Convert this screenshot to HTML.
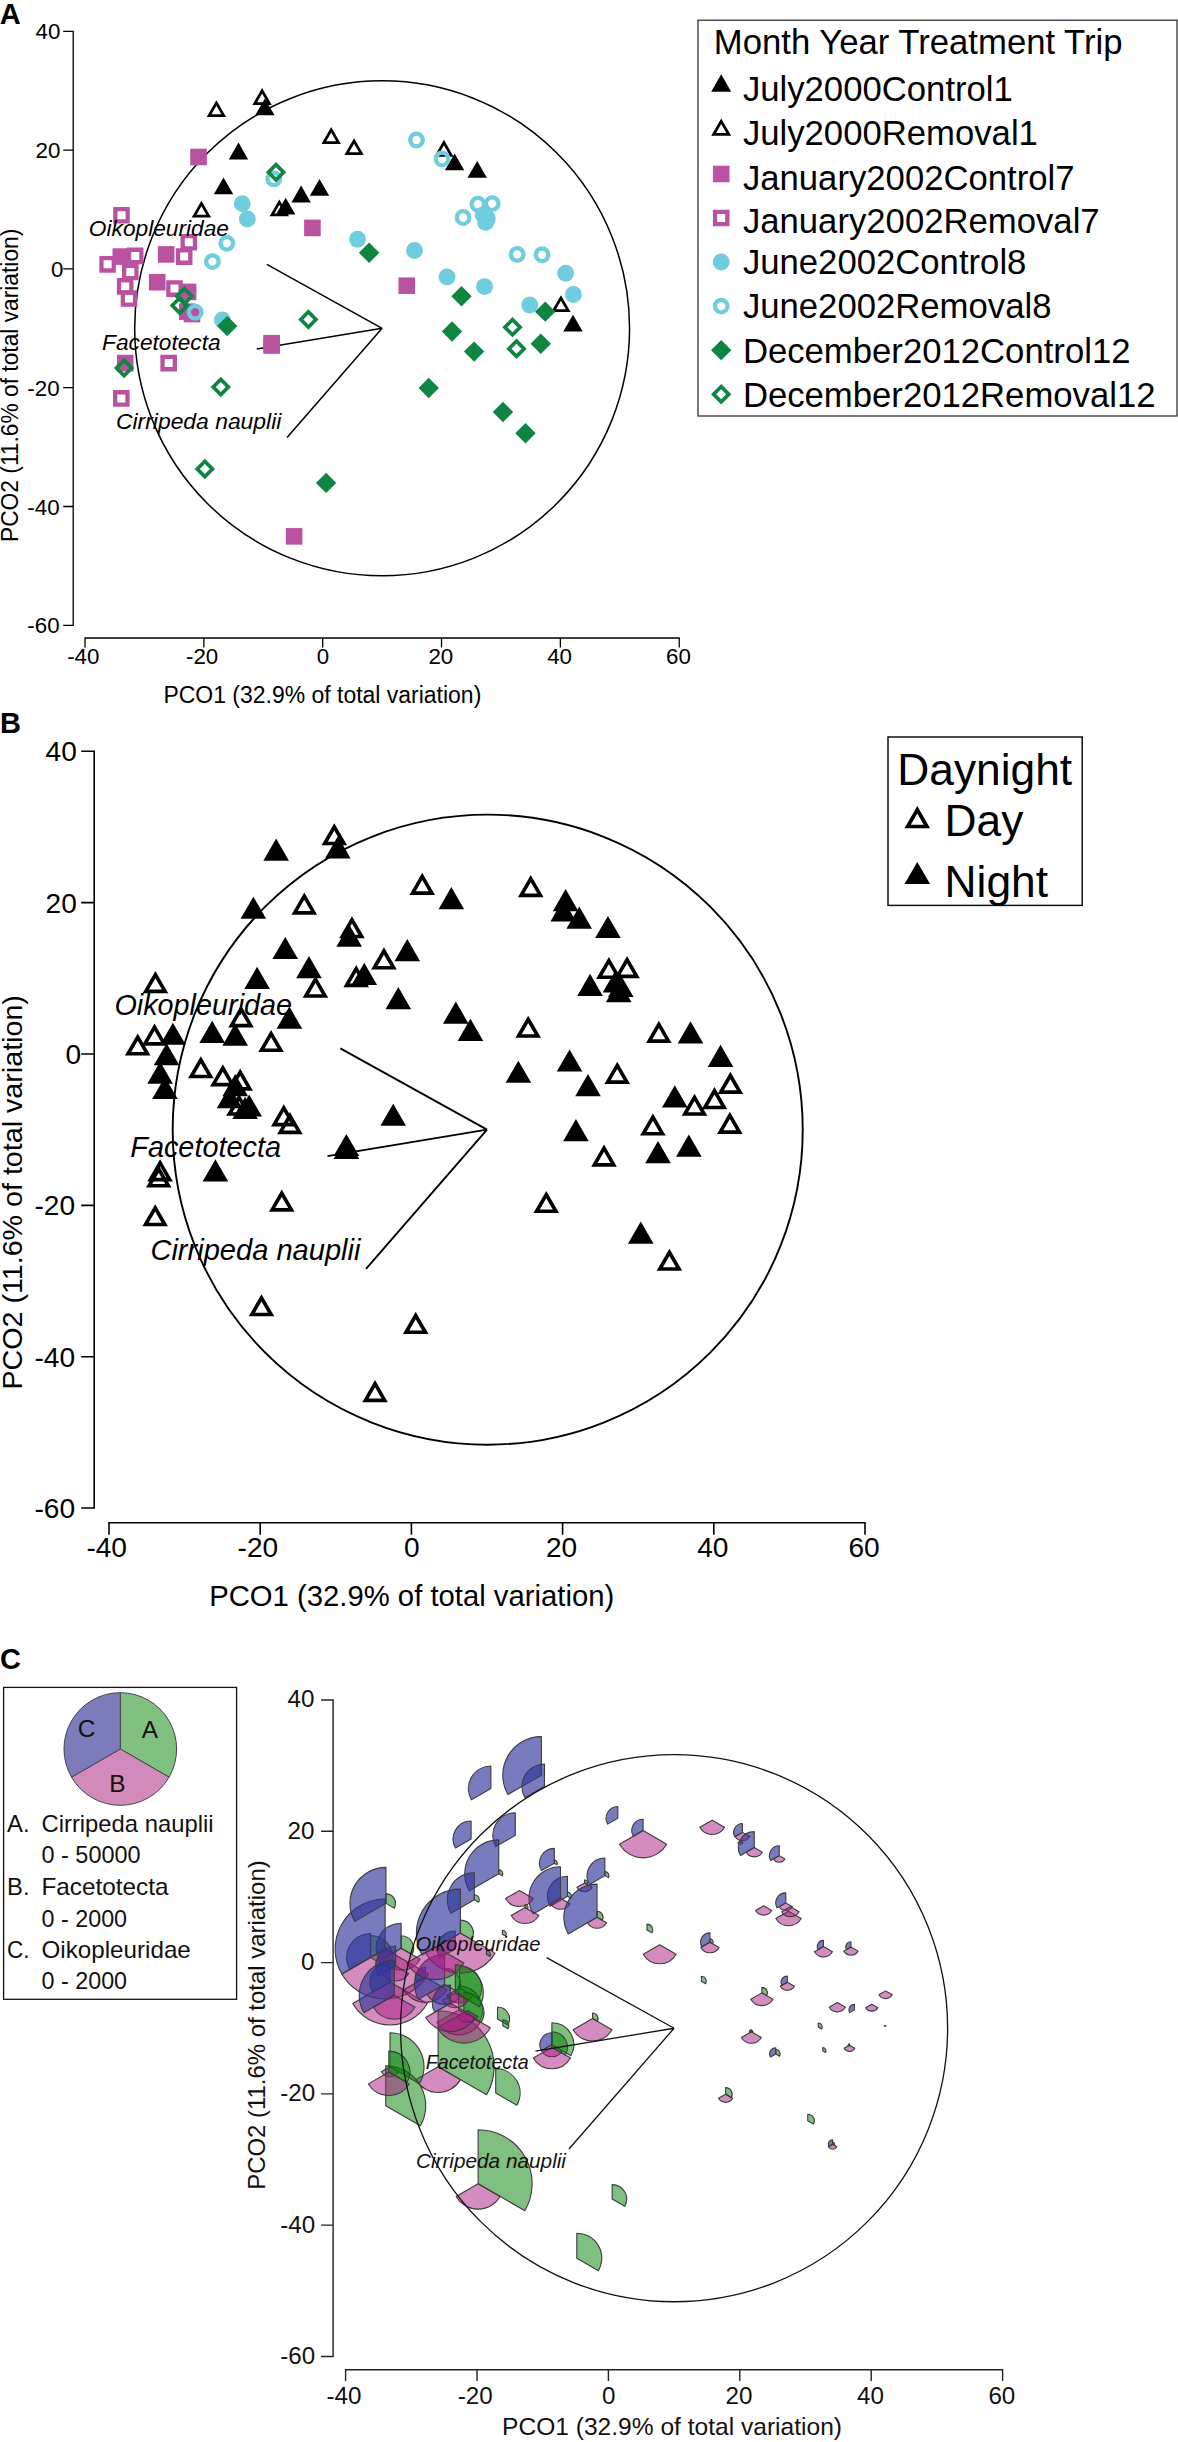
<!DOCTYPE html>
<html><head><meta charset="utf-8"><title>PCO ordination of zooplankton assemblages</title>
<style>html,body{margin:0;padding:0;background:#fff}svg{display:block}text{font-family:"Liberation Sans", Arial, sans-serif}</style>
</head><body>
<svg width="1178" height="2442" viewBox="0 0 1178 2442">
<rect width="1178" height="2442" fill="#fff"/>
<g id="panelA">
<text x="-0.2" y="24.3" font-size="29" font-weight="bold">A</text>
<path d="M63.2 31.3 H73.2 V625.3 H63.2 M63.2 150.1 H73.2 M63.2 268.9 H73.2 M63.2 387.7 H73.2 M63.2 506.5 H73.2 M85.02 647.5 V638 H679.22 V647.5 M203.86 638 V647.5 M322.7 638 V647.5 M441.54 638 V647.5 M560.38 638 V647.5" fill="none" stroke="#000" stroke-width="1.3" stroke-linejoin="miter" stroke-linecap="butt"/>
<text x="60.3" y="39.3" font-size="22.3" text-anchor="end">40</text>
<text x="60.3" y="158.1" font-size="22.3" text-anchor="end">20</text>
<text x="63.4" y="276.9" font-size="22.3" text-anchor="end">0</text>
<text x="59.6" y="395.7" font-size="22.3" text-anchor="end">-20</text>
<text x="59.6" y="514.5" font-size="22.3" text-anchor="end">-40</text>
<text x="59.6" y="633.3" font-size="22.3" text-anchor="end">-60</text>
<text x="83.29" y="664.4" font-size="22.3" text-anchor="middle">-40</text>
<text x="202.13" y="664.4" font-size="22.3" text-anchor="middle">-20</text>
<text x="323" y="664.4" font-size="22.3" text-anchor="middle">0</text>
<text x="440.79" y="664.4" font-size="22.3" text-anchor="middle">20</text>
<text x="559.63" y="664.4" font-size="22.3" text-anchor="middle">40</text>
<text x="678.47" y="664.4" font-size="22.3" text-anchor="middle">60</text>
<text x="163.4" y="702.6" font-size="23" textLength="317.9" lengthAdjust="spacingAndGlyphs">PCO1 (32.9% of total variation)</text>
<text x="17.5" y="542" font-size="23" textLength="313.3" lengthAdjust="spacingAndGlyphs" transform="rotate(-90 17.5 542)">PCO2 (11.6% of total variation)</text>
<circle cx="382.12" cy="328.3" r="247.44" fill="none" stroke="#000" stroke-width="1.5"/>
<path d="M382.12 328.3 L266.85 264.44 M382.12 328.3 L256.74 349.09 M382.12 328.3 L287.05 437.6" fill="none" stroke="#000" stroke-width="1.5"/>
<path d="M216.4 100.17 L226.1 116.97 L206.7 116.97 Z M216.4 105.67 L221.33 114.22 L211.46 114.22 Z" fill="#000" fill-rule="evenodd"/>
<path d="M262.09 88.11 L271.79 104.91 L252.39 104.91 Z M262.09 93.61 L267.03 102.16 L257.15 102.16 Z" fill="#000" fill-rule="evenodd"/>
<path d="M331.2 127.08 L340.9 143.88 L321.5 143.88 Z M331.2 132.58 L336.13 141.13 L326.26 141.13 Z" fill="#000" fill-rule="evenodd"/>
<path d="M279.32 199.49 L289.02 216.29 L269.62 216.29 Z M279.32 204.99 L284.26 213.54 L274.39 213.54 Z" fill="#000" fill-rule="evenodd"/>
<path d="M201.42 200.79 L211.12 217.6 L191.72 217.6 Z M201.42 206.29 L206.36 214.85 L196.49 214.85 Z" fill="#000" fill-rule="evenodd"/>
<path d="M354.07 138.19 L363.77 154.99 L344.37 154.99 Z M354.07 143.69 L359.01 152.24 L349.14 152.24 Z" fill="#000" fill-rule="evenodd"/>
<path d="M443.92 139.85 L453.62 156.65 L434.22 156.65 Z M443.92 145.35 L448.85 153.9 L438.98 153.9 Z" fill="#000" fill-rule="evenodd"/>
<path d="M560.91 295.3 L570.61 312.1 L551.21 312.1 Z M560.91 300.8 L565.85 309.35 L555.98 309.35 Z" fill="#000" fill-rule="evenodd"/>
<path d="M264.88 98.39 L274.58 115.19 L255.18 115.19 Z" fill="#000"/>
<path d="M238.5 142.58 L248.2 159.38 L228.8 159.38 Z" fill="#000"/>
<path d="M223.53 177.39 L233.23 194.19 L213.83 194.19 Z" fill="#000"/>
<path d="M319.49 178.99 L329.19 195.8 L309.79 195.8 Z" fill="#000"/>
<path d="M301.13 185.59 L310.83 202.39 L291.43 202.39 Z" fill="#000"/>
<path d="M285.68 197.71 L295.38 214.51 L275.98 214.51 Z" fill="#000"/>
<path d="M454.61 153.57 L464.31 170.37 L444.91 170.37 Z" fill="#000"/>
<path d="M477.19 160.88 L486.89 177.68 L467.49 177.68 Z" fill="#000"/>
<path d="M572.98 314.66 L582.68 331.46 L563.28 331.46 Z" fill="#000"/>
<path d="M190.21 148.69 h16.6 v16.6 h-16.6 Z" fill="#B9539F"/>
<path d="M304.12 219.61 h16.6 v16.6 h-16.6 Z" fill="#B9539F"/>
<path d="M157.83 246.11 h16.6 v16.6 h-16.6 Z" fill="#B9539F"/>
<path d="M112.49 248.3 h16.6 v16.6 h-16.6 Z" fill="#B9539F"/>
<path d="M148.92 273.91 h16.6 v16.6 h-16.6 Z" fill="#B9539F"/>
<path d="M179.81 283.59 h16.6 v16.6 h-16.6 Z" fill="#B9539F"/>
<path d="M178.92 303.37 h16.6 v16.6 h-16.6 Z" fill="#B9539F"/>
<path d="M183.68 305.74 h16.6 v16.6 h-16.6 Z" fill="#B9539F"/>
<path d="M263.3 334.91 h16.6 v16.6 h-16.6 Z" fill="#B9539F"/>
<path d="M263.3 337.23 h16.6 v16.6 h-16.6 Z" fill="#B9539F"/>
<path d="M398.48 277.41 h16.6 v16.6 h-16.6 Z" fill="#B9539F"/>
<path d="M116.89 354.81 h16.6 v16.6 h-16.6 Z" fill="#B9539F"/>
<path d="M285.82 528.08 h16.6 v16.6 h-16.6 Z" fill="#B9539F"/>
<path d="M113.2 207.02 h16.6 v16.6 h-16.6 Z M117.5 211.32 h8 v8 h-8 Z" fill="#B9539F" fill-rule="evenodd"/>
<path d="M180.53 233.93 h16.6 v16.6 h-16.6 Z M184.83 238.23 h8 v8 h-8 Z" fill="#B9539F" fill-rule="evenodd"/>
<path d="M175.89 248.3 h16.6 v16.6 h-16.6 Z M180.19 252.6 h8 v8 h-8 Z" fill="#B9539F" fill-rule="evenodd"/>
<path d="M126.93 247.59 h16.6 v16.6 h-16.6 Z M131.23 251.89 h8 v8 h-8 Z" fill="#B9539F" fill-rule="evenodd"/>
<path d="M99.3 256.03 h16.6 v16.6 h-16.6 Z M103.6 260.33 h8 v8 h-8 Z" fill="#B9539F" fill-rule="evenodd"/>
<path d="M122 263.69 h16.6 v16.6 h-16.6 Z M126.3 267.99 h8 v8 h-8 Z" fill="#B9539F" fill-rule="evenodd"/>
<path d="M116.89 278.12 h16.6 v16.6 h-16.6 Z M121.19 282.42 h8 v8 h-8 Z" fill="#B9539F" fill-rule="evenodd"/>
<path d="M120.69 290.18 h16.6 v16.6 h-16.6 Z M124.99 294.48 h8 v8 h-8 Z" fill="#B9539F" fill-rule="evenodd"/>
<path d="M166.21 280.32 h16.6 v16.6 h-16.6 Z M170.51 284.62 h8 v8 h-8 Z" fill="#B9539F" fill-rule="evenodd"/>
<path d="M160.38 354.81 h16.6 v16.6 h-16.6 Z M164.68 359.11 h8 v8 h-8 Z" fill="#B9539F" fill-rule="evenodd"/>
<path d="M113.03 390.09 h16.6 v16.6 h-16.6 Z M117.33 394.39 h8 v8 h-8 Z" fill="#B9539F" fill-rule="evenodd"/>
<circle cx="242.19" cy="203.62" r="8.45" fill="#70CDDD"/>
<circle cx="247.3" cy="219" r="8.45" fill="#70CDDD"/>
<circle cx="222.4" cy="319.92" r="8.45" fill="#70CDDD"/>
<circle cx="483.13" cy="214.85" r="8.45" fill="#70CDDD"/>
<circle cx="485.63" cy="222.39" r="8.45" fill="#70CDDD"/>
<circle cx="487.29" cy="218.41" r="8.45" fill="#70CDDD"/>
<circle cx="357.58" cy="239.32" r="8.45" fill="#70CDDD"/>
<circle cx="414.5" cy="250.43" r="8.45" fill="#70CDDD"/>
<circle cx="565.67" cy="273.3" r="8.45" fill="#70CDDD"/>
<circle cx="573.39" cy="294.5" r="8.45" fill="#70CDDD"/>
<circle cx="447.01" cy="276.92" r="8.45" fill="#70CDDD"/>
<circle cx="484.5" cy="286.6" r="8.45" fill="#70CDDD"/>
<circle cx="529.72" cy="305.07" r="8.45" fill="#70CDDD"/>
<circle cx="273.8" cy="178.91" r="6.3" fill="none" stroke="#70CDDD" stroke-width="4.3"/>
<circle cx="226.8" cy="243.3" r="6.3" fill="none" stroke="#70CDDD" stroke-width="4.3"/>
<circle cx="212.42" cy="261.59" r="6.3" fill="none" stroke="#70CDDD" stroke-width="4.3"/>
<circle cx="195.18" cy="312.2" r="6.3" fill="none" stroke="#70CDDD" stroke-width="4.3"/>
<circle cx="416.52" cy="140" r="6.3" fill="none" stroke="#70CDDD" stroke-width="4.3"/>
<circle cx="442.07" cy="159.01" r="6.3" fill="none" stroke="#70CDDD" stroke-width="4.3"/>
<circle cx="477.91" cy="204.27" r="6.3" fill="none" stroke="#70CDDD" stroke-width="4.3"/>
<circle cx="492.23" cy="203.62" r="6.3" fill="none" stroke="#70CDDD" stroke-width="4.3"/>
<circle cx="463.11" cy="217.52" r="6.3" fill="none" stroke="#70CDDD" stroke-width="4.3"/>
<circle cx="517.18" cy="254.41" r="6.3" fill="none" stroke="#70CDDD" stroke-width="4.3"/>
<circle cx="542.08" cy="254.82" r="6.3" fill="none" stroke="#70CDDD" stroke-width="4.3"/>
<path d="M227.21 315.9 L237.41 326.1 L227.21 336.3 L217.01 326.1 Z" fill="#0E8541"/>
<path d="M369.11 242.6 L379.31 252.8 L369.11 263 L358.91 252.8 Z" fill="#0E8541"/>
<path d="M461.51 286.08 L471.71 296.28 L461.51 306.48 L451.31 296.28 Z" fill="#0E8541"/>
<path d="M545.23 301.47 L555.43 311.67 L545.23 321.87 L535.03 311.67 Z" fill="#0E8541"/>
<path d="M452 321.31 L462.2 331.51 L452 341.71 L441.8 331.51 Z" fill="#0E8541"/>
<path d="M474.1 341.38 L484.3 351.58 L474.1 361.78 L463.9 351.58 Z" fill="#0E8541"/>
<path d="M540.77 333.48 L550.97 343.68 L540.77 353.88 L530.57 343.68 Z" fill="#0E8541"/>
<path d="M428.71 377.8 L438.91 388 L428.71 398.2 L418.51 388 Z" fill="#0E8541"/>
<path d="M502.98 401.85 L513.18 412.05 L502.98 422.25 L492.78 412.05 Z" fill="#0E8541"/>
<path d="M525.5 423.12 L535.7 433.32 L525.5 443.52 L515.3 433.32 Z" fill="#0E8541"/>
<path d="M326.09 472.72 L336.29 482.92 L326.09 493.12 L315.89 482.92 Z" fill="#0E8541"/>
<path d="M276 162.12 L286.2 172.32 L276 182.52 L265.8 172.32 Z M276 167.32 L281 172.32 L276 177.32 L271 172.32 Z" fill="#0E8541" fill-rule="evenodd"/>
<path d="M184.25 286.02 L194.45 296.22 L184.25 306.42 L174.05 296.22 Z M184.25 291.22 L189.25 296.22 L184.25 301.22 L179.25 296.22 Z" fill="#0E8541" fill-rule="evenodd"/>
<path d="M179.79 295.41 L189.99 305.61 L179.79 315.81 L169.59 305.61 Z M179.79 300.61 L184.79 305.61 L179.79 310.61 L174.79 305.61 Z" fill="#0E8541" fill-rule="evenodd"/>
<path d="M308.38 309.31 L318.58 319.51 L308.38 329.71 L298.18 319.51 Z M308.38 314.51 L313.38 319.51 L308.38 324.51 L303.38 319.51 Z" fill="#0E8541" fill-rule="evenodd"/>
<path d="M512.49 316.97 L522.69 327.17 L512.49 337.37 L502.29 327.17 Z M512.49 322.17 L517.49 327.17 L512.49 332.17 L507.49 327.17 Z" fill="#0E8541" fill-rule="evenodd"/>
<path d="M516.53 338.59 L526.73 348.79 L516.53 358.99 L506.33 348.79 Z M516.53 343.79 L521.53 348.79 L516.53 353.79 L511.53 348.79 Z" fill="#0E8541" fill-rule="evenodd"/>
<path d="M124.12 357.78 L134.32 367.98 L124.12 378.18 L113.92 367.98 Z M124.12 362.98 L129.12 367.98 L124.12 372.98 L119.12 367.98 Z" fill="#0E8541" fill-rule="evenodd"/>
<path d="M220.79 376.73 L230.99 386.93 L220.79 397.13 L210.59 386.93 Z M220.79 381.93 L225.79 386.93 L220.79 391.93 L215.79 386.93 Z" fill="#0E8541" fill-rule="evenodd"/>
<path d="M204.87 458.82 L215.07 469.02 L204.87 479.22 L194.67 469.02 Z M204.87 464.02 L209.87 469.02 L204.87 474.02 L199.87 469.02 Z" fill="#0E8541" fill-rule="evenodd"/>
<text x="88.8" y="236.3" font-size="22.6" font-style="italic" textLength="140.2" lengthAdjust="spacingAndGlyphs">Oikopleuridae</text>
<text x="102.1" y="349.9" font-size="22.6" font-style="italic" textLength="118.5" lengthAdjust="spacingAndGlyphs">Facetotecta</text>
<text x="116" y="428.9" font-size="22.6" font-style="italic" textLength="165.3" lengthAdjust="spacingAndGlyphs">Cirripeda nauplii</text>
<rect x="698" y="20.2" width="479" height="395.8" fill="#fff" stroke="#222" stroke-width="1.2"/>
<text x="713.8" y="54.1" font-size="34.7">Month Year Treatment Trip</text>
<path d="M721.2 74.36 L731.19 91.67 L711.21 91.67 Z" fill="#000"/>
<text x="742.9" y="101.3" font-size="34.7">July2000Control1</text>
<path d="M721.2 118.4 L731.19 135.71 L711.21 135.71 Z M721.2 124.07 L726.28 132.88 L716.12 132.88 Z" fill="#000" fill-rule="evenodd"/>
<text x="742.9" y="145.4" font-size="34.7">July2000Removal1</text>
<path d="M712.9 165.68 h16.6 v16.6 h-16.6 Z" fill="#B9539F"/>
<text x="742.9" y="189.8" font-size="34.7">January2002Control7</text>
<path d="M712.9 209.72 h16.6 v16.6 h-16.6 Z M717.2 214.02 h8 v8 h-8 Z" fill="#B9539F" fill-rule="evenodd"/>
<text x="742.9" y="232.9" font-size="34.7">January2002Removal7</text>
<circle cx="721.2" cy="262.06" r="8.45" fill="#70CDDD"/>
<text x="742.9" y="274.3" font-size="34.7">June2002Control8</text>
<circle cx="721.2" cy="306.1" r="6.3" fill="none" stroke="#70CDDD" stroke-width="4.3"/>
<text x="742.9" y="318.4" font-size="34.7">June2002Removal8</text>
<path d="M721.2 339.94 L731.4 350.14 L721.2 360.34 L711 350.14 Z" fill="#0E8541"/>
<text x="742.9" y="363" font-size="34.7">December2012Control12</text>
<path d="M721.2 383.98 L731.4 394.18 L721.2 404.38 L711 394.18 Z M721.2 389.18 L726.2 394.18 L721.2 399.18 L716.2 394.18 Z" fill="#0E8541" fill-rule="evenodd"/>
<text x="742.9" y="406.9" font-size="34.7">December2012Removal12</text>
</g>
<g id="panelB">
<text x="0" y="732.8" font-size="29" font-weight="bold">B</text>
<path d="M81.2 751.32 H94.2 V1508.02 H81.2 M81.2 902.66 H94.2 M81.2 1054 H94.2 M81.2 1205.34 H94.2 M81.2 1356.68 H94.2 M109 1534.8 V1522.8 H865 V1534.8 M260.2 1522.8 V1534.8 M411.4 1522.8 V1534.8 M562.6 1522.8 V1534.8 M713.8 1522.8 V1534.8" fill="none" stroke="#000" stroke-width="1.6" stroke-linejoin="miter" stroke-linecap="butt"/>
<text x="76.8" y="761.32" font-size="28.1" text-anchor="end">40</text>
<text x="76.8" y="912.66" font-size="28.1" text-anchor="end">20</text>
<text x="81" y="1064" font-size="28.1" text-anchor="end">0</text>
<text x="75.1" y="1215.34" font-size="28.1" text-anchor="end">-20</text>
<text x="75.1" y="1366.68" font-size="28.1" text-anchor="end">-40</text>
<text x="75.1" y="1518.02" font-size="28.1" text-anchor="end">-60</text>
<text x="106.7" y="1557.1" font-size="28.1" text-anchor="middle">-40</text>
<text x="257.9" y="1557.1" font-size="28.1" text-anchor="middle">-20</text>
<text x="411.8" y="1557.1" font-size="28.1" text-anchor="middle">0</text>
<text x="561.6" y="1557.1" font-size="28.1" text-anchor="middle">20</text>
<text x="712.8" y="1557.1" font-size="28.1" text-anchor="middle">40</text>
<text x="864" y="1557.1" font-size="28.1" text-anchor="middle">60</text>
<text x="209.2" y="1605.5" font-size="29.1" textLength="405" lengthAdjust="spacingAndGlyphs">PCO1 (32.9% of total variation)</text>
<text x="21.8" y="1389.6" font-size="28.5" textLength="394.5" lengthAdjust="spacingAndGlyphs" transform="rotate(-90 21.8 1389.6)">PCO2 (11.6% of total variation)</text>
<circle cx="487.7" cy="1129.67" r="315.02" fill="none" stroke="#000" stroke-width="1.9"/>
<path d="M487 1129.67 L340.34 1048.32 M487 1129.67 L327.48 1156.15 M487 1129.67 L366.04 1268.9" fill="none" stroke="#000" stroke-width="1.9"/>
<path d="M276.15 838.54 L288.95 860.71 L263.35 860.71 Z"/>
<path d="M334.29 823.18 L347.09 845.35 L321.49 845.35 Z M334.29 830.48 L340.77 841.7 L327.81 841.7 Z" fill-rule="evenodd"/>
<path d="M337.84 836.27 L350.64 858.44 L325.04 858.44 Z"/>
<path d="M422.21 872.82 L435.01 894.99 L409.41 894.99 Z M422.21 880.12 L428.69 891.34 L415.73 891.34 Z" fill-rule="evenodd"/>
<path d="M253.4 896.66 L266.2 918.83 L240.6 918.83 Z"/>
<path d="M304.27 892.57 L317.07 914.74 L291.47 914.74 Z M304.27 899.87 L310.75 911.09 L297.8 911.09 Z" fill-rule="evenodd"/>
<path d="M351.98 916.18 L364.78 938.35 L339.18 938.35 Z M351.98 923.48 L358.46 934.7 L345.5 934.7 Z" fill-rule="evenodd"/>
<path d="M349.18 924.58 L361.98 946.75 L336.38 946.75 Z"/>
<path d="M285.22 936.91 L298.02 959.08 L272.42 959.08 Z"/>
<path d="M407.32 938.96 L420.12 961.13 L394.52 961.13 Z"/>
<path d="M383.96 947.36 L396.76 969.53 L371.16 969.53 Z M383.96 954.66 L390.44 965.88 L377.48 965.88 Z" fill-rule="evenodd"/>
<path d="M364.3 962.79 L377.1 984.96 L351.5 984.96 Z"/>
<path d="M356.21 965.06 L369.01 987.23 L343.41 987.23 Z M356.21 972.36 L362.69 983.58 L349.73 983.58 Z" fill-rule="evenodd"/>
<path d="M257.1 966.73 L269.9 988.9 L244.3 988.9 Z"/>
<path d="M308.96 956.06 L321.76 978.23 L296.16 978.23 Z"/>
<path d="M315.46 975.66 L328.26 997.83 L302.66 997.83 Z M315.46 982.96 L321.94 994.18 L308.99 994.18 Z" fill-rule="evenodd"/>
<path d="M398.32 987.01 L411.12 1009.18 L385.52 1009.18 Z"/>
<path d="M155.42 970.97 L168.22 993.14 L142.62 993.14 Z M155.42 978.27 L161.9 989.49 L148.94 989.49 Z" fill-rule="evenodd"/>
<path d="M289.38 1006.61 L302.18 1028.78 L276.58 1028.78 Z"/>
<path d="M271.09 1029.91 L283.89 1052.08 L258.29 1052.08 Z M271.09 1037.21 L277.56 1048.43 L264.61 1048.43 Z" fill-rule="evenodd"/>
<path d="M241.07 1005.24 L253.87 1027.41 L228.27 1027.41 Z M241.07 1012.54 L247.55 1023.76 L234.6 1023.76 Z" fill-rule="evenodd"/>
<path d="M235.18 1023.56 L247.98 1045.73 L222.38 1045.73 Z"/>
<path d="M212.19 1020.76 L224.99 1042.93 L199.39 1042.93 Z"/>
<path d="M172.88 1022.65 L185.68 1044.82 L160.08 1044.82 Z"/>
<path d="M154.51 1023.56 L167.31 1045.73 L141.71 1045.73 Z M154.51 1030.86 L160.99 1042.08 L148.03 1042.08 Z" fill-rule="evenodd"/>
<path d="M137.73 1033.39 L150.53 1055.56 L124.93 1055.56 Z M137.73 1040.69 L144.21 1051.91 L131.25 1051.91 Z" fill-rule="evenodd"/>
<path d="M166.61 1043.15 L179.41 1065.32 L153.81 1065.32 Z"/>
<path d="M160.11 1061.54 L172.91 1083.71 L147.31 1083.71 Z"/>
<path d="M164.94 1076.9 L177.74 1099.07 L152.14 1099.07 Z"/>
<path d="M200.85 1056.17 L213.65 1078.34 L188.05 1078.34 Z M200.85 1063.47 L207.33 1074.69 L194.38 1074.69 Z" fill-rule="evenodd"/>
<path d="M222.85 1064.34 L235.65 1086.51 L210.05 1086.51 Z M222.85 1071.64 L229.33 1082.86 L216.38 1082.86 Z" fill-rule="evenodd"/>
<path d="M240.17 1068.5 L252.97 1090.67 L227.37 1090.67 Z M240.17 1075.8 L246.64 1087.02 L233.69 1087.02 Z" fill-rule="evenodd"/>
<path d="M235.25 1074.03 L248.05 1096.2 L222.45 1096.2 Z"/>
<path d="M229.58 1085.98 L242.38 1108.15 L216.78 1108.15 Z"/>
<path d="M239.03 1093.7 L251.83 1115.87 L226.23 1115.87 Z M239.03 1101 L245.51 1112.22 L232.55 1112.22 Z" fill-rule="evenodd"/>
<path d="M245.08 1096.73 L257.88 1118.9 L232.28 1118.9 Z"/>
<path d="M249.16 1094.38 L261.96 1116.55 L236.36 1116.55 Z"/>
<path d="M283.79 1104.22 L296.59 1126.39 L270.99 1126.39 Z M283.79 1111.52 L290.27 1122.74 L277.31 1122.74 Z" fill-rule="evenodd"/>
<path d="M289.91 1112.09 L302.71 1134.26 L277.11 1134.26 Z M289.91 1119.39 L296.39 1130.61 L283.43 1130.61 Z" fill-rule="evenodd"/>
<path d="M393.18 1103.69 L405.98 1125.86 L380.38 1125.86 Z"/>
<path d="M346.38 1133.88 L359.18 1156.05 L333.58 1156.05 Z"/>
<path d="M346.38 1136.83 L359.18 1159 L333.58 1159 Z"/>
<path d="M451.32 886.97 L464.12 909.14 L438.52 909.14 Z"/>
<path d="M530.77 875.02 L543.57 897.19 L517.97 897.19 Z M530.77 882.32 L537.25 893.54 L524.29 893.54 Z" fill-rule="evenodd"/>
<path d="M565.62 889.09 L578.42 911.26 L552.82 911.26 Z"/>
<path d="M563.28 899.23 L576.08 921.4 L550.48 921.4 Z"/>
<path d="M579.23 906.57 L592.03 928.74 L566.43 928.74 Z"/>
<path d="M607.96 915.88 L620.76 938.05 L595.16 938.05 Z"/>
<path d="M608.87 956.89 L621.67 979.06 L596.07 979.06 Z M608.87 964.19 L615.35 975.41 L602.39 975.41 Z" fill-rule="evenodd"/>
<path d="M627.09 956.06 L639.89 978.23 L614.29 978.23 Z M627.09 963.36 L633.56 974.58 L620.61 974.58 Z" fill-rule="evenodd"/>
<path d="M590.04 973.77 L602.84 995.94 L577.24 995.94 Z"/>
<path d="M615.52 970.36 L628.32 992.53 L602.72 992.53 Z"/>
<path d="M618.7 979.97 L631.5 1002.14 L605.9 1002.14 Z"/>
<path d="M620.81 974.9 L633.61 997.07 L608.01 997.07 Z"/>
<path d="M455.78 1001.54 L468.58 1023.71 L442.98 1023.71 Z"/>
<path d="M470.44 1018.71 L483.24 1040.88 L457.64 1040.88 Z"/>
<path d="M528.2 1015.69 L541 1037.86 L515.4 1037.86 Z M528.2 1022.99 L534.68 1034.21 L521.72 1034.21 Z" fill-rule="evenodd"/>
<path d="M658.84 1020.76 L671.64 1042.93 L646.04 1042.93 Z M658.84 1028.06 L665.32 1039.28 L652.36 1039.28 Z" fill-rule="evenodd"/>
<path d="M690.52 1021.29 L703.32 1043.46 L677.72 1043.46 Z"/>
<path d="M720.53 1044.82 L733.33 1066.99 L707.73 1066.99 Z"/>
<path d="M730.36 1071.83 L743.16 1094 L717.56 1094 Z M730.36 1079.13 L736.83 1090.35 L723.88 1090.35 Z" fill-rule="evenodd"/>
<path d="M569.56 1049.44 L582.36 1071.61 L556.76 1071.61 Z"/>
<path d="M617.26 1061.77 L630.06 1083.94 L604.46 1083.94 Z M617.26 1069.07 L623.74 1080.29 L610.78 1080.29 Z" fill-rule="evenodd"/>
<path d="M518.37 1060.63 L531.17 1082.8 L505.57 1082.8 Z"/>
<path d="M588 1074.1 L600.8 1096.27 L575.2 1096.27 Z"/>
<path d="M674.79 1085.3 L687.59 1107.47 L661.99 1107.47 Z"/>
<path d="M694.52 1093.7 L707.32 1115.87 L681.72 1115.87 Z M694.52 1101 L701 1112.22 L688.04 1112.22 Z" fill-rule="evenodd"/>
<path d="M714.48 1087.12 L727.28 1109.29 L701.68 1109.29 Z M714.48 1094.42 L720.96 1105.64 L708 1105.64 Z" fill-rule="evenodd"/>
<path d="M729.83 1111.79 L742.63 1133.96 L717.03 1133.96 Z M729.83 1119.09 L736.31 1130.31 L723.35 1130.31 Z" fill-rule="evenodd"/>
<path d="M652.87 1113.45 L665.67 1135.62 L640.07 1135.62 Z M652.87 1120.75 L659.34 1131.97 L646.39 1131.97 Z" fill-rule="evenodd"/>
<path d="M575.91 1118.98 L588.71 1141.15 L563.11 1141.15 Z"/>
<path d="M604.03 1144.55 L616.83 1166.72 L591.23 1166.72 Z M604.03 1151.85 L610.51 1163.07 L597.55 1163.07 Z" fill-rule="evenodd"/>
<path d="M658.01 1141 L670.81 1163.17 L645.21 1163.17 Z"/>
<path d="M688.85 1134.49 L701.65 1156.66 L676.05 1156.66 Z"/>
<path d="M546.27 1190.94 L559.07 1213.11 L533.47 1213.11 Z M546.27 1198.24 L552.75 1209.46 L539.79 1209.46 Z" fill-rule="evenodd"/>
<path d="M640.77 1221.58 L653.57 1243.75 L627.97 1243.75 Z"/>
<path d="M669.42 1248.67 L682.22 1270.84 L656.62 1270.84 Z M669.42 1255.97 L675.9 1267.19 L662.94 1267.19 Z" fill-rule="evenodd"/>
<path d="M160.11 1159.23 L172.91 1181.4 L147.31 1181.4 Z M160.11 1166.53 L166.58 1177.75 L153.63 1177.75 Z" fill-rule="evenodd"/>
<path d="M158.74 1165.44 L171.54 1187.61 L145.94 1187.61 Z M158.74 1172.74 L165.22 1183.96 L152.27 1183.96 Z" fill-rule="evenodd"/>
<path d="M215.44 1159.23 L228.24 1181.4 L202.64 1181.4 Z"/>
<path d="M281.75 1189.58 L294.55 1211.75 L268.95 1211.75 Z M281.75 1196.88 L288.22 1208.1 L275.27 1208.1 Z" fill-rule="evenodd"/>
<path d="M155.19 1204.18 L167.99 1226.35 L142.39 1226.35 Z M155.19 1211.48 L161.67 1222.7 L148.71 1222.7 Z" fill-rule="evenodd"/>
<path d="M261.49 1294.15 L274.29 1316.32 L248.69 1316.32 Z M261.49 1301.45 L267.96 1312.67 L255.01 1312.67 Z" fill-rule="evenodd"/>
<path d="M415.71 1311.86 L428.51 1334.03 L402.91 1334.03 Z M415.71 1319.16 L422.19 1330.38 L409.23 1330.38 Z" fill-rule="evenodd"/>
<path d="M375.04 1379.96 L387.84 1402.13 L362.24 1402.13 Z M375.04 1387.26 L381.51 1398.48 L368.56 1398.48 Z" fill-rule="evenodd"/>
<text x="114.4" y="1015.3" font-size="28.8" font-style="italic" textLength="177.7" lengthAdjust="spacingAndGlyphs">Oikopleuridae</text>
<text x="130.3" y="1156.8" font-size="28.8" font-style="italic" textLength="150.7" lengthAdjust="spacingAndGlyphs">Facetotecta</text>
<text x="150.4" y="1260.2" font-size="28.8" font-style="italic" textLength="210.1" lengthAdjust="spacingAndGlyphs">Cirripeda nauplii</text>
<rect x="888" y="737" width="194.2" height="168.4" fill="#fff" stroke="#111" stroke-width="1.5"/>
<text x="897.3" y="784.7" font-size="44.3">Daynight</text>
<path d="M917.3 806.12 L930.1 828.29 L904.5 828.29 Z M917.3 813.42 L923.78 824.64 L910.82 824.64 Z" fill-rule="evenodd"/>
<text x="944.6" y="835.9" font-size="44.3">Day</text>
<path d="M917.3 861.92 L930.1 884.09 L904.5 884.09 Z"/>
<text x="944.6" y="897.2" font-size="44.3">Night</text>
</g>
<g id="panelC">
<text x="0" y="1669.4" font-size="29" font-weight="bold">C</text>
<path d="M321.1 1700.04 H333.1 V2356.44 H321.1 M321.1 1831.32 H333.1 M321.1 1962.6 H333.1 M321.1 2093.88 H333.1 M321.1 2225.16 H333.1 M345.6 2381.1 V2369.7 H1002.6 V2381.1 M477 2369.7 V2381.1 M608.4 2369.7 V2381.1 M739.8 2369.7 V2381.1 M871.2 2369.7 V2381.1" fill="none" stroke="#222" stroke-width="1.4" stroke-linejoin="miter" stroke-linecap="butt"/>
<text x="314.4" y="1707.44" font-size="24.2" text-anchor="end" fill="#151010">40</text>
<text x="314.4" y="1838.72" font-size="24.2" text-anchor="end" fill="#151010">20</text>
<text x="314.4" y="1970" font-size="24.2" text-anchor="end" fill="#151010">0</text>
<text x="315.2" y="2101.28" font-size="24.2" text-anchor="end" fill="#151010">-20</text>
<text x="315.2" y="2232.56" font-size="24.2" text-anchor="end" fill="#151010">-40</text>
<text x="315.2" y="2363.84" font-size="24.2" text-anchor="end" fill="#151010">-60</text>
<text x="343.87" y="2404" font-size="24.2" text-anchor="middle" fill="#151010">-40</text>
<text x="475.27" y="2404" font-size="24.2" text-anchor="middle" fill="#151010">-20</text>
<text x="608.7" y="2404" font-size="24.2" text-anchor="middle" fill="#151010">0</text>
<text x="739.05" y="2404" font-size="24.2" text-anchor="middle" fill="#151010">20</text>
<text x="870.45" y="2404" font-size="24.2" text-anchor="middle" fill="#151010">40</text>
<text x="1001.85" y="2404" font-size="24.2" text-anchor="middle" fill="#151010">60</text>
<text x="502" y="2434.6" font-size="24.4" textLength="340" lengthAdjust="spacingAndGlyphs" fill="#151010">PCO1 (32.9% of total variation)</text>
<text x="265.5" y="2189.8" font-size="23.8" textLength="329.5" lengthAdjust="spacingAndGlyphs" transform="rotate(-90 265.5 2189.8)" fill="#151010">PCO2 (11.6% of total variation)</text>
<g stroke="#3c3c3c" stroke-width="1.1" stroke-linejoin="round">
<path d="M490.86 1788.52 L471.38 1799.77 A22.5 22.5 0 0 1 490.86 1766.02 Z" fill="rgba(47,53,155,0.65)"/>
<path d="M541.39 1775.2 L507.96 1794.5 A38.6 38.6 0 0 1 541.39 1736.6 Z" fill="rgba(47,53,155,0.65)"/>
<path d="M544.47 1786.55 L524.99 1797.8 A22.5 22.5 0 0 1 544.47 1764.05 Z" fill="rgba(47,53,155,0.65)"/>
<path d="M617.8 1818.26 L607.66 1824.11 A11.7 11.7 0 0 1 617.8 1806.56 Z" fill="rgba(47,53,155,0.65)"/>
<path d="M515.3 1835.39 L495.82 1846.64 A22.5 22.5 0 0 1 515.3 1812.89 Z" fill="rgba(47,53,155,0.65)"/>
<path d="M498.75 1873.85 L498.75 1869.85 A4 4 0 0 1 502.21 1875.85 Z" fill="rgba(0,128,0,0.5)"/>
<path d="M498.75 1873.85 L469.3 1890.85 A34 34 0 0 1 498.75 1839.85 Z" fill="rgba(47,53,155,0.65)"/>
<path d="M604.85 1875.63 L604.85 1871.63 A4 4 0 0 1 608.32 1877.63 Z" fill="rgba(0,128,0,0.5)"/>
<path d="M604.85 1875.63 L589.52 1884.48 A17.7 17.7 0 0 1 604.85 1857.93 Z" fill="rgba(47,53,155,0.65)"/>
<path d="M584.55 1882.91 L584.55 1879.91 A3 3 0 0 1 587.15 1884.41 Z" fill="rgba(0,128,0,0.5)"/>
<path d="M584.55 1882.91 L592.17 1887.31 A8.8 8.8 0 0 1 576.93 1887.31 Z" fill="rgba(169,25,129,0.5)"/>
<path d="M567.47 1896.3 L567.47 1892.3 A4 4 0 0 1 570.93 1898.3 Z" fill="rgba(0,128,0,0.5)"/>
<path d="M567.47 1896.3 L550.15 1906.3 A20 20 0 0 1 567.47 1876.3 Z" fill="rgba(47,53,155,0.65)"/>
<path d="M560.44 1898.27 L569.97 1903.77 A11 11 0 0 1 550.91 1903.77 Z" fill="rgba(169,25,129,0.5)"/>
<path d="M560.44 1898.27 L533.16 1914.02 A31.5 31.5 0 0 1 560.44 1866.77 Z" fill="rgba(47,53,155,0.65)"/>
<path d="M474.31 1899.72 L474.31 1894.72 A5 5 0 0 1 478.64 1902.22 Z" fill="rgba(0,128,0,0.5)"/>
<path d="M474.31 1899.72 L450.92 1913.22 A27 27 0 0 1 474.31 1872.72 Z" fill="rgba(47,53,155,0.65)"/>
<path d="M643.09 1830.53 L666.73 1844.18 A27.3 27.3 0 0 1 619.45 1844.18 Z" fill="rgba(169,25,129,0.5)"/>
<path d="M643.09 1830.53 L633.3 1836.18 A11.3 11.3 0 0 1 643.09 1819.23 Z" fill="rgba(47,53,155,0.65)"/>
<path d="M742.43 1832.37 L749.7 1836.57 A8.4 8.4 0 0 1 735.15 1836.57 Z" fill="rgba(169,25,129,0.5)"/>
<path d="M742.43 1832.37 L734.81 1836.77 A8.8 8.8 0 0 1 742.43 1823.57 Z" fill="rgba(47,53,155,0.65)"/>
<path d="M754.25 1847.53 L762.31 1852.18 A9.3 9.3 0 0 1 746.2 1852.18 Z" fill="rgba(169,25,129,0.5)"/>
<path d="M754.25 1847.53 L740.48 1855.48 A15.9 15.9 0 0 1 754.25 1831.63 Z" fill="rgba(47,53,155,0.65)"/>
<path d="M779.22 1855.61 L784.94 1858.91 A6.6 6.6 0 0 1 773.5 1858.91 Z" fill="rgba(169,25,129,0.5)"/>
<path d="M779.22 1855.61 L770.73 1860.51 A9.8 9.8 0 0 1 779.22 1845.81 Z" fill="rgba(47,53,155,0.65)"/>
<path d="M871.79 2004.15 L877.85 2007.65 A7 7 0 0 1 865.73 2007.65 Z" fill="rgba(169,25,129,0.5)"/>
<path d="M885.13 2025.55 L885.99 2026.05 A1 1 0 0 1 884.26 2026.05 Z" fill="rgba(169,25,129,0.5)"/>
<path d="M438.11 2066.71 L438.11 2010.71 A56 56 0 0 1 486.6 2094.71 Z" fill="rgba(0,128,0,0.5)"/>
<path d="M438.11 2066.71 L460.45 2079.61 A25.8 25.8 0 0 1 415.76 2079.61 Z" fill="rgba(169,25,129,0.5)"/>
<path d="M390.01 2066.71 L390.01 2032.71 A34 34 0 0 1 419.46 2083.71 Z" fill="rgba(0,128,0,0.5)"/>
<path d="M390.01 2066.71 L398.67 2071.71 A10 10 0 0 1 381.35 2071.71 Z" fill="rgba(169,25,129,0.5)"/>
<path d="M385.74 2105.7 L385.74 2065.7 A40 40 0 0 1 420.38 2125.7 Z" fill="rgba(0,128,0,0.5)"/>
<path d="M370.57 1957.55 L370.57 1935.55 A22 22 0 0 1 389.62 1968.55 Z" fill="rgba(0,128,0,0.5)"/>
<path d="M370.57 1957.55 L349.78 1969.55 A24 24 0 0 1 370.57 1933.55 Z" fill="rgba(47,53,155,0.65)"/>
<path d="M455.25 1949.01 L439.66 1958.01 A18 18 0 0 1 455.25 1931.01 Z" fill="rgba(47,53,155,0.65)"/>
<path d="M401.12 1948.22 L401.12 1935.72 A12.5 12.5 0 0 1 411.94 1954.47 Z" fill="rgba(0,128,0,0.5)"/>
<path d="M401.12 1948.22 L420.17 1959.22 A22 22 0 0 1 382.06 1959.22 Z" fill="rgba(169,25,129,0.5)"/>
<path d="M401.12 1948.22 L379.47 1960.72 A25 25 0 0 1 401.12 1923.22 Z" fill="rgba(47,53,155,0.65)"/>
<path d="M385.15 1949.01 L428.45 1974.01 A50 50 0 0 1 341.85 1974.01 Z" fill="rgba(169,25,129,0.5)"/>
<path d="M385.15 1949.01 L341.85 1974.01 A50 50 0 0 1 385.15 1899.01 Z" fill="rgba(47,53,155,0.65)"/>
<path d="M385.94 1903.39 L385.94 1893.89 A9.5 9.5 0 0 1 394.17 1908.14 Z" fill="rgba(0,128,0,0.5)"/>
<path d="M385.94 1903.39 L354.76 1921.39 A36 36 0 0 1 385.94 1867.39 Z" fill="rgba(47,53,155,0.65)"/>
<path d="M471.09 1838.93 L455.5 1847.93 A18 18 0 0 1 471.09 1820.93 Z" fill="rgba(47,53,155,0.65)"/>
<path d="M597.03 1917.31 L597.03 1911.31 A6 6 0 0 1 602.23 1920.31 Z" fill="rgba(0,128,0,0.5)"/>
<path d="M597.03 1917.31 L606.56 1922.81 A11 11 0 0 1 587.51 1922.81 Z" fill="rgba(169,25,129,0.5)"/>
<path d="M597.03 1917.31 L568.28 1933.91 A33.2 33.2 0 0 1 597.03 1884.11 Z" fill="rgba(47,53,155,0.65)"/>
<path d="M395.66 1966.01 L408.65 1973.51 A15 15 0 0 1 382.67 1973.51 Z" fill="rgba(169,25,129,0.5)"/>
<path d="M395.66 1966.01 L378.34 1976.01 A20 20 0 0 1 395.66 1946.01 Z" fill="rgba(47,53,155,0.65)"/>
<path d="M390.01 1981.96 L427.25 2003.46 A43 43 0 0 1 352.77 2003.46 Z" fill="rgba(169,25,129,0.5)"/>
<path d="M390.01 1981.96 L372.69 1991.96 A20 20 0 0 1 390.01 1961.96 Z" fill="rgba(47,53,155,0.65)"/>
<path d="M394.22 1995.29 L415 2007.29 A24 24 0 0 1 373.43 2007.29 Z" fill="rgba(169,25,129,0.5)"/>
<path d="M394.22 1995.29 L363.91 2012.79 A35 35 0 0 1 394.22 1960.29 Z" fill="rgba(47,53,155,0.65)"/>
<path d="M425.43 1977.3 L447.08 1989.8 A25 25 0 0 1 403.77 1989.8 Z" fill="rgba(169,25,129,0.5)"/>
<path d="M425.43 1977.3 L416.77 1982.3 A10 10 0 0 1 425.43 1967.3 Z" fill="rgba(47,53,155,0.65)"/>
<path d="M444.54 1984.39 L444.54 1968.39 A16 16 0 0 1 458.4 1992.39 Z" fill="rgba(0,128,0,0.5)"/>
<path d="M444.54 1984.39 L461.86 1994.39 A20 20 0 0 1 427.22 1994.39 Z" fill="rgba(169,25,129,0.5)"/>
<path d="M444.54 1984.39 L418.56 1999.39 A30 30 0 0 1 444.54 1954.39 Z" fill="rgba(47,53,155,0.65)"/>
<path d="M459.59 1988 L459.59 1966 A22 22 0 0 1 478.64 1999 Z" fill="rgba(0,128,0,0.5)"/>
<path d="M459.59 1988 L472.58 1995.5 A15 15 0 0 1 446.6 1995.5 Z" fill="rgba(169,25,129,0.5)"/>
<path d="M458.6 2009.86 L458.6 1985.86 A24 24 0 0 1 479.39 2021.86 Z" fill="rgba(0,128,0,0.5)"/>
<path d="M458.6 2009.86 L480.25 2022.36 A25 25 0 0 1 436.95 2022.36 Z" fill="rgba(169,25,129,0.5)"/>
<path d="M463.86 2012.49 L463.86 1992.49 A20 20 0 0 1 481.18 2022.49 Z" fill="rgba(0,128,0,0.5)"/>
<path d="M463.86 2012.49 L490.36 2027.79 A30.6 30.6 0 0 1 437.36 2027.79 Z" fill="rgba(169,25,129,0.5)"/>
<path d="M551.9 2044.72 L551.9 2022.82 A21.9 21.9 0 0 1 570.86 2055.67 Z" fill="rgba(0,128,0,0.5)"/>
<path d="M551.9 2044.72 L562.29 2050.72 A12 12 0 0 1 541.51 2050.72 Z" fill="rgba(169,25,129,0.5)"/>
<path d="M551.9 2044.72 L541.51 2050.72 A12 12 0 0 1 551.9 2032.72 Z" fill="rgba(47,53,155,0.65)"/>
<path d="M551.9 2047.28 L551.9 2031.78 A15.5 15.5 0 0 1 565.32 2055.03 Z" fill="rgba(0,128,0,0.5)"/>
<path d="M551.9 2047.28 L570.52 2058.03 A21.5 21.5 0 0 1 533.28 2058.03 Z" fill="rgba(169,25,129,0.5)"/>
<path d="M701.37 1981.18 L701.37 1976.18 A5 5 0 0 1 705.7 1983.68 Z" fill="rgba(0,128,0,0.5)"/>
<path d="M576.8 2258.18 L576.8 2233.18 A25 25 0 0 1 598.45 2270.68 Z" fill="rgba(0,128,0,0.5)"/>
<path d="M460.38 1933.13 L460.38 1920.13 A13 13 0 0 1 471.64 1939.63 Z" fill="rgba(0,128,0,0.5)"/>
<path d="M460.38 1933.13 L495.02 1953.13 A40 40 0 0 1 425.74 1953.13 Z" fill="rgba(169,25,129,0.5)"/>
<path d="M460.38 1933.13 L422.27 1955.13 A44 44 0 0 1 460.38 1889.13 Z" fill="rgba(47,53,155,0.65)"/>
<path d="M435.28 1946.58 L463.86 1963.08 A33 33 0 0 1 406.7 1963.08 Z" fill="rgba(169,25,129,0.5)"/>
<path d="M554.33 1863.16 L554.33 1860.16 A3 3 0 0 1 556.93 1864.66 Z" fill="rgba(0,128,0,0.5)"/>
<path d="M554.33 1863.16 L541.51 1870.56 A14.8 14.8 0 0 1 554.33 1848.36 Z" fill="rgba(47,53,155,0.65)"/>
<path d="M519.38 1890.46 L533.23 1898.46 A16 16 0 0 1 505.52 1898.46 Z" fill="rgba(169,25,129,0.5)"/>
<path d="M525.03 1907.46 L525.03 1904.46 A3 3 0 0 1 527.62 1908.96 Z" fill="rgba(0,128,0,0.5)"/>
<path d="M525.03 1907.46 L538.88 1915.46 A16 16 0 0 1 511.17 1915.46 Z" fill="rgba(169,25,129,0.5)"/>
<path d="M502.36 1934.31 L502.36 1930.31 A4 4 0 0 1 505.82 1936.31 Z" fill="rgba(0,128,0,0.5)"/>
<path d="M486.46 1954.53 L486.46 1950.53 A4 4 0 0 1 489.92 1956.53 Z" fill="rgba(0,128,0,0.5)"/>
<path d="M467.41 2010.45 L477.8 2016.45 A12 12 0 0 1 457.02 2016.45 Z" fill="rgba(169,25,129,0.5)"/>
<path d="M497.5 2018.98 L497.5 2006.98 A12 12 0 0 1 507.89 2024.98 Z" fill="rgba(0,128,0,0.5)"/>
<path d="M712.14 1820.16 L724.52 1827.31 A14.3 14.3 0 0 1 699.76 1827.31 Z" fill="rgba(169,25,129,0.5)"/>
<path d="M740.39 1841.17 L742.99 1842.67 A3 3 0 0 1 737.79 1842.67 Z" fill="rgba(169,25,129,0.5)"/>
<path d="M763.65 1905.82 L771.7 1910.47 A9.3 9.3 0 0 1 755.6 1910.47 Z" fill="rgba(169,25,129,0.5)"/>
<path d="M785.79 1902.87 L792.46 1906.72 A7.7 7.7 0 0 1 779.12 1906.72 Z" fill="rgba(169,25,129,0.5)"/>
<path d="M785.79 1902.87 L777.13 1907.87 A10 10 0 0 1 785.79 1892.87 Z" fill="rgba(47,53,155,0.65)"/>
<path d="M788.55 1911.2 L801.19 1918.5 A14.6 14.6 0 0 1 775.91 1918.5 Z" fill="rgba(169,25,129,0.5)"/>
<path d="M790.39 1906.81 L799.05 1911.81 A10 10 0 0 1 781.73 1911.81 Z" fill="rgba(169,25,129,0.5)"/>
<path d="M646.97 1929.91 L646.97 1924.11 A5.8 5.8 0 0 1 651.99 1932.81 Z" fill="rgba(0,128,0,0.5)"/>
<path d="M709.91 1942.19 L709.91 1938.89 A3.3 3.3 0 0 1 712.76 1943.84 Z" fill="rgba(0,128,0,0.5)"/>
<path d="M709.91 1942.19 L719.09 1947.49 A10.6 10.6 0 0 1 700.73 1947.49 Z" fill="rgba(169,25,129,0.5)"/>
<path d="M709.91 1942.19 L701.85 1946.84 A9.3 9.3 0 0 1 709.91 1932.89 Z" fill="rgba(47,53,155,0.65)"/>
<path d="M823.44 1946.58 L832.44 1951.78 A10.4 10.4 0 0 1 814.43 1951.78 Z" fill="rgba(169,25,129,0.5)"/>
<path d="M823.44 1946.58 L818.07 1949.68 A6.2 6.2 0 0 1 823.44 1940.38 Z" fill="rgba(47,53,155,0.65)"/>
<path d="M850.96 1947.04 L858.07 1951.14 A8.2 8.2 0 0 1 843.86 1951.14 Z" fill="rgba(169,25,129,0.5)"/>
<path d="M850.96 1947.04 L846.37 1949.69 A5.3 5.3 0 0 1 850.96 1941.74 Z" fill="rgba(47,53,155,0.65)"/>
<path d="M885.59 1990.89 L892.26 1994.74 A7.7 7.7 0 0 1 878.92 1994.74 Z" fill="rgba(169,25,129,0.5)"/>
<path d="M787.3 1982.16 L794.4 1986.26 A8.2 8.2 0 0 1 780.2 1986.26 Z" fill="rgba(169,25,129,0.5)"/>
<path d="M787.3 1982.16 L781.93 1985.26 A6.2 6.2 0 0 1 787.3 1975.96 Z" fill="rgba(47,53,155,0.65)"/>
<path d="M837.3 2002.57 L845.35 2007.22 A9.3 9.3 0 0 1 829.24 2007.22 Z" fill="rgba(169,25,129,0.5)"/>
<path d="M455.32 1992.79 L455.32 1964.79 A28 28 0 0 1 479.57 2006.79 Z" fill="rgba(0,128,0,0.5)"/>
<path d="M455.32 1992.79 L468.31 2000.29 A15 15 0 0 1 442.33 2000.29 Z" fill="rgba(169,25,129,0.5)"/>
<path d="M450.39 2003.17 L475.07 2017.42 A28.5 28.5 0 0 1 425.71 2017.42 Z" fill="rgba(169,25,129,0.5)"/>
<path d="M450.39 2003.17 L434.8 2012.17 A18 18 0 0 1 450.39 1985.17 Z" fill="rgba(47,53,155,0.65)"/>
<path d="M502.82 2025.81 L502.82 2019.81 A6 6 0 0 1 508.02 2028.81 Z" fill="rgba(0,128,0,0.5)"/>
<path d="M592.57 2018.53 L592.57 2013.03 A5.5 5.5 0 0 1 597.33 2021.28 Z" fill="rgba(0,128,0,0.5)"/>
<path d="M592.57 2018.53 L611.97 2029.73 A22.4 22.4 0 0 1 573.17 2029.73 Z" fill="rgba(169,25,129,0.5)"/>
<path d="M659.71 1944.81 L676.17 1954.31 A19 19 0 0 1 643.26 1954.31 Z" fill="rgba(169,25,129,0.5)"/>
<path d="M761.88 1992.86 L761.88 1987.36 A5.5 5.5 0 0 1 766.64 1995.61 Z" fill="rgba(0,128,0,0.5)"/>
<path d="M761.88 1992.86 L772.96 1999.26 A12.8 12.8 0 0 1 750.79 1999.26 Z" fill="rgba(169,25,129,0.5)"/>
<path d="M854.45 2009.86 L849.68 2012.61 A5.5 5.5 0 0 1 854.45 2004.36 Z" fill="rgba(47,53,155,0.65)"/>
<path d="M818.25 2026.99 L818.25 2022.99 A4 4 0 0 1 821.71 2028.99 Z" fill="rgba(0,128,0,0.5)"/>
<path d="M751.36 2031.78 L751.36 2030.28 A1.5 1.5 0 0 1 752.66 2032.53 Z" fill="rgba(0,128,0,0.5)"/>
<path d="M751.36 2031.78 L761.32 2037.53 A11.5 11.5 0 0 1 741.4 2037.53 Z" fill="rgba(169,25,129,0.5)"/>
<path d="M751.36 2031.78 L749.63 2032.78 A2 2 0 0 1 751.36 2029.78 Z" fill="rgba(47,53,155,0.65)"/>
<path d="M775.8 2053.97 L775.8 2049.57 A4.4 4.4 0 0 1 779.61 2056.17 Z" fill="rgba(0,128,0,0.5)"/>
<path d="M775.8 2053.97 L770.43 2057.07 A6.2 6.2 0 0 1 775.8 2047.77 Z" fill="rgba(47,53,155,0.65)"/>
<path d="M822.71 2050.89 L822.71 2047.59 A3.3 3.3 0 0 1 825.57 2052.54 Z" fill="rgba(0,128,0,0.5)"/>
<path d="M849.52 2045.24 L854.89 2048.34 A6.2 6.2 0 0 1 844.15 2048.34 Z" fill="rgba(169,25,129,0.5)"/>
<path d="M849.52 2045.24 L848.22 2045.99 A1.5 1.5 0 0 1 849.52 2043.74 Z" fill="rgba(47,53,155,0.65)"/>
<path d="M725.61 2094.21 L725.61 2087.61 A6.6 6.6 0 0 1 731.32 2097.51 Z" fill="rgba(0,128,0,0.5)"/>
<path d="M725.61 2094.21 L732.71 2098.31 A8.2 8.2 0 0 1 718.51 2098.31 Z" fill="rgba(169,25,129,0.5)"/>
<path d="M807.73 2120.79 L807.73 2114.19 A6.6 6.6 0 0 1 813.45 2124.09 Z" fill="rgba(0,128,0,0.5)"/>
<path d="M832.63 2144.29 L832.63 2142.29 A2 2 0 0 1 834.37 2145.29 Z" fill="rgba(0,128,0,0.5)"/>
<path d="M832.63 2144.29 L836.88 2146.74 A4.9 4.9 0 0 1 828.39 2146.74 Z" fill="rgba(169,25,129,0.5)"/>
<path d="M832.63 2144.29 L828.82 2146.49 A4.4 4.4 0 0 1 832.63 2139.89 Z" fill="rgba(47,53,155,0.65)"/>
<path d="M388.83 2072.09 L388.83 2051.09 A21 21 0 0 1 407.02 2082.59 Z" fill="rgba(0,128,0,0.5)"/>
<path d="M388.83 2072.09 L409.27 2083.89 A23.6 23.6 0 0 1 368.39 2083.89 Z" fill="rgba(169,25,129,0.5)"/>
<path d="M495.72 2093.03 L495.72 2068.63 A24.4 24.4 0 0 1 516.86 2105.23 Z" fill="rgba(0,128,0,0.5)"/>
<path d="M478.12 2183.74 L478.12 2129.74 A54 54 0 0 1 524.88 2210.74 Z" fill="rgba(0,128,0,0.5)"/>
<path d="M478.12 2183.74 L500.11 2196.44 A25.4 25.4 0 0 1 456.12 2196.44 Z" fill="rgba(169,25,129,0.5)"/>
<path d="M612.14 2199.1 L612.14 2184.6 A14.5 14.5 0 0 1 624.7 2206.35 Z" fill="rgba(0,128,0,0.5)"/>
</g>
<circle cx="674.1" cy="2028.24" r="273.52" fill="none" stroke="#111" stroke-width="1.3"/>
<path d="M674.1 2028.24 L546.64 1957.68 M674.1 2028.24 L535.47 2051.21 M674.1 2028.24 L568.98 2149.02" fill="none" stroke="#111" stroke-width="1.3"/>
<text x="415.6" y="1950.9" font-size="20.3" font-style="italic" textLength="124.9" lengthAdjust="spacingAndGlyphs" fill="#151010">Oikopleuridae</text>
<text x="425.8" y="2068.7" font-size="20.3" font-style="italic" textLength="102.8" lengthAdjust="spacingAndGlyphs" fill="#151010">Facetotecta</text>
<text x="415.9" y="2167.8" font-size="20.3" font-style="italic" textLength="150.1" lengthAdjust="spacingAndGlyphs" fill="#151010">Cirripeda nauplii</text>
<rect x="3.6" y="1687.4" width="233" height="311.9" fill="#fff" stroke="#111" stroke-width="1.3"/>
<g stroke="#444" stroke-width="1">
<path d="M120.3 1749 L120.3 1692.7 A56.3 56.3 0 0 1 169.06 1777.15 Z" fill="rgb(128,192,128)"/>
<path d="M120.3 1749 L169.06 1777.15 A56.3 56.3 0 0 1 71.54 1777.15 Z" fill="rgb(210,138,188)"/>
<path d="M120.3 1749 L71.54 1777.15 A56.3 56.3 0 0 1 120.3 1692.7 Z" fill="rgb(124,124,188)"/>
</g>
<text x="150" y="1737.6" font-size="24.4" text-anchor="middle" fill="#151010">A</text>
<text x="117.4" y="1791.6" font-size="24.4" text-anchor="middle" fill="#151010">B</text>
<text x="86.6" y="1737.3" font-size="24.4" text-anchor="middle" fill="#151010">C</text>
<text x="7" y="1831.7" font-size="23.6" textLength="22.5" lengthAdjust="spacingAndGlyphs" fill="#151010">A.</text>
<text x="41.5" y="1831.7" font-size="23.6" textLength="172" lengthAdjust="spacingAndGlyphs" fill="#151010">Cirripeda nauplii</text>
<text x="41.5" y="1862.5" font-size="23.6" textLength="99" lengthAdjust="spacingAndGlyphs" fill="#151010">0 - 50000</text>
<text x="7" y="1895" font-size="23.6" textLength="22.5" lengthAdjust="spacingAndGlyphs" fill="#151010">B.</text>
<text x="41.5" y="1895" font-size="23.6" textLength="127" lengthAdjust="spacingAndGlyphs" fill="#151010">Facetotecta</text>
<text x="41.5" y="1926.5" font-size="23.6" textLength="85.6" lengthAdjust="spacingAndGlyphs" fill="#151010">0 - 2000</text>
<text x="7" y="1958.4" font-size="23.6" textLength="22.5" lengthAdjust="spacingAndGlyphs" fill="#151010">C.</text>
<text x="41.5" y="1958.4" font-size="23.6" textLength="149.3" lengthAdjust="spacingAndGlyphs" fill="#151010">Oikopleuridae</text>
<text x="41.5" y="1988.7" font-size="23.6" textLength="85.6" lengthAdjust="spacingAndGlyphs" fill="#151010">0 - 2000</text>
</g>
</svg>
</body></html>
